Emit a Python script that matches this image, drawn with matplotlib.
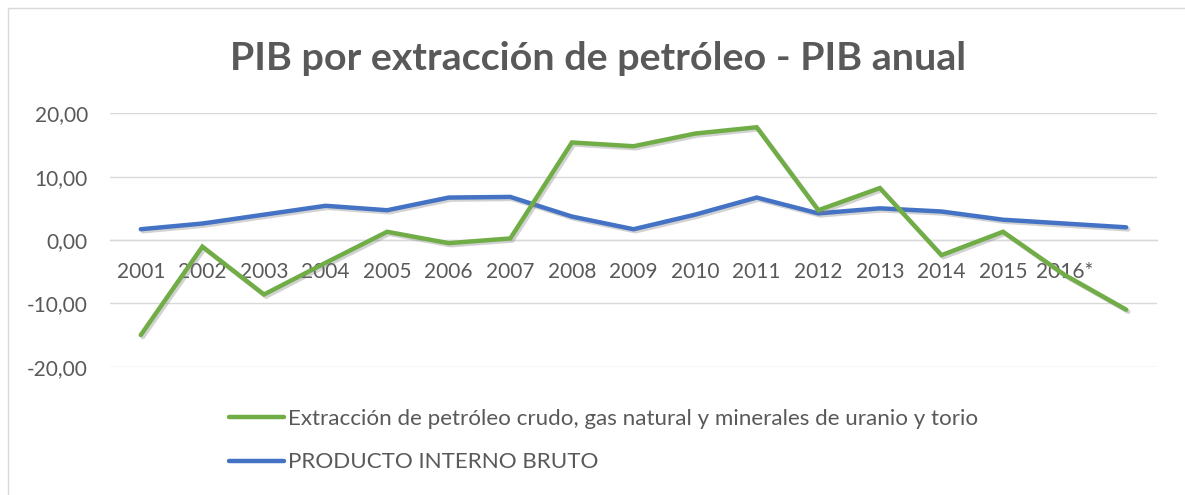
import numpy as np
import matplotlib
matplotlib.use("Agg")
import matplotlib.pyplot as plt
import matplotlib.patheffects as pe
from matplotlib.patches import Rectangle

# ---- data ----
categories = ["2001", "2002", "2003", "2004", "2005", "2006", "2007", "2008",
              "2009", "2010", "2011", "2012", "2013", "2014", "2015", "2016*", ""]
extraccion = [-15.0, -1.05, -8.6, -3.6, 1.3, -0.5, 0.25, 15.4, 14.8, 16.8, 17.8,
              4.7, 8.2, -2.4, 1.3, -5.5, -11.0]
pib = [1.7, 2.6, 4.0, 5.4, 4.7, 6.7, 6.8, 3.7, 1.7, 4.0, 6.7, 4.2, 5.0, 4.5,
       3.2, 2.6, 2.0]
yticks = [-20, -10, 0, 10, 20]
title = "PIB por extracción de petróleo - PIB anual"
label_ext = "Extracción de petróleo crudo, gas natural y minerales de uranio y torio"
label_pib = "PRODUCTO INTERNO BRUTO"

plt.rcParams['font.family'] = ['Lato', 'DejaVu Sans']
TXT = "#595959"
GRID = "#D9D9D9"
GREEN = "#70AD47"
BLUE = "#4472C4"

W, H = 1185, 495
fig = plt.figure(figsize=(W / 100, H / 100), dpi=100)
fig.patch.set_facecolor("white")

left, right = 110 / W, 1157 / W
top, bottom = 1 - 113.3 / H, 1 - 366.7 / H
ax = fig.add_axes([left, bottom, right - left, top - bottom])

x = np.arange(len(categories))
shadow = [pe.SimpleLineShadow(offset=(1.5, -1.5), shadow_color="gray", alpha=0.35),
          pe.Normal()]
l_pib, = ax.plot(x, pib, color=BLUE, lw=3.2, solid_capstyle="round",
                 solid_joinstyle="miter", path_effects=shadow, zorder=3)
l_ext, = ax.plot(x, extraccion, color=GREEN, lw=3.2, solid_capstyle="round",
                 solid_joinstyle="miter", path_effects=shadow, zorder=4)

ax.set_xlim(-0.5, len(categories) - 0.5)
ax.set_ylim(-20, 20)
ax.set_yticks(yticks, [f"{v:.2f}".replace(".", ",") for v in yticks])
ax.yaxis.grid(True, color=GRID, lw=1.0)
ax.set_axisbelow(True)
for s in ["top", "right", "left"]:
    ax.spines[s].set_visible(False)
ax.spines["bottom"].set_position(("data", 0))
ax.spines["bottom"].set_color(GRID)
ax.spines["bottom"].set_linewidth(1.0)
ax.set_xticks(x, categories)
ax.tick_params(axis="x", length=0, pad=15.5, labelsize=15, labelcolor=TXT)
ax.tick_params(axis="y", length=0, pad=16, labelsize=15, labelcolor=TXT)

fig.text(598.5 / W, 1 - 58 / H, title, ha="center", va="center", fontsize=28.4,
         fontweight="bold", color=TXT)

leg = fig.legend([l_ext, l_pib], [label_ext, label_pib], loc="upper left",
                 bbox_to_anchor=(229 / W, 1 - 409 / H), frameon=False,
                 fontsize=16.1, labelcolor=TXT, handlelength=2.45, handletextpad=0.2,
                 labelspacing=1.05, borderpad=0, borderaxespad=0)
for h in leg.get_lines():
    h.set_linewidth(3.2)
    h.set_path_effects([pe.Normal()])

fig.patches.append(Rectangle((8 / W, -0.1), 2, 1 - 8 / H + 0.1,
                             transform=fig.transFigure, fill=False,
                             edgecolor=GRID, lw=1.0))

fig.savefig("out.png", dpi=100)
